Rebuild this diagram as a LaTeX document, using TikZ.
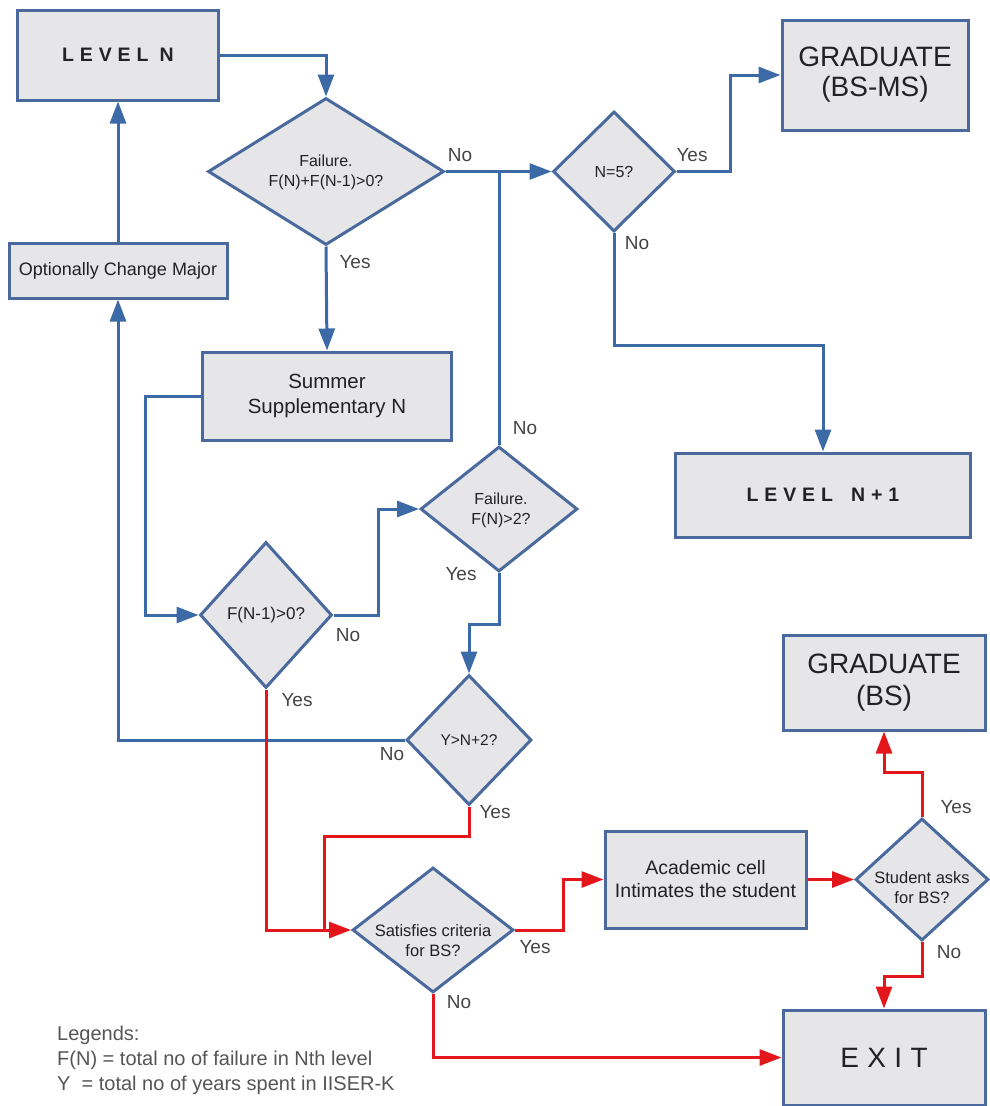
\documentclass[tikz,border=0pt]{standalone}
\usepackage{fontspec}
\setmainfont{Liberation Sans}
\usetikzlibrary{shapes.geometric,arrows.meta}
\definecolor{bordc}{HTML}{4A6A9E}
\definecolor{fillc}{HTML}{E6E6E9}
\definecolor{linec}{HTML}{3C6AA6}
\definecolor{redc}{HTML}{E3161C}
\definecolor{txtc}{HTML}{222222}
\definecolor{lblc}{HTML}{444444}
\definecolor{legc}{HTML}{555555}
\begin{document}
\begin{tikzpicture}[x=1pt,y=-1pt,
  box/.style={draw=bordc, line width=3pt, fill=fillc, inner sep=0pt, text=txtc, align=center},
  dia/.style={diamond, draw=bordc, line width=3pt, fill=fillc, inner sep=0pt, aspect=1},
  dtext/.style={text=txtc, align=center, inner sep=0pt},
  bline/.style={draw=linec, line width=3pt},
  barrow/.style={bline, -{Triangle[length=22pt,width=16pt]}},
  rline/.style={draw=redc, line width=3pt},
  rarrow/.style={rline, -{Triangle[length=22pt,width=16pt]}},
  lbl/.style={text=lblc, font=\fontsize{19}{19}\selectfont},
  spaced/.style={font=\fontsize{19.5}{22}\selectfont\bfseries\addfontfeature{LetterSpace=30}}
]
\useasboundingbox (0,0) rectangle (989,1106);

% ---------- nodes ----------
\node[box, spaced, minimum width=201pt, minimum height=90pt] (levelN) at (118,55) {LEVEL N};
\node[dia, minimum width=236pt, minimum height=147pt] (d1) at (326,171.5) {};
\node[dtext, font=\fontsize{16}{20}\selectfont] (d1t) at (326,172) {Failure.\\F(N)+F(N-1)>0?};
\node[box, font=\fontsize{18}{20}\selectfont, minimum width=218pt, minimum height=55pt] (opt) at (118,270.5) {Optionally Change Major};
\node[dia, minimum width=122pt, minimum height=120pt] (d5) at (614,171.5) {};
\node[dtext, font=\fontsize{16}{20}\selectfont] (d5t) at (614,171.5) {N=5?};
\node[box, font=\fontsize{28}{30}\selectfont, minimum width=186pt, minimum height=110pt] (gradMS) at (875,75) {GRADUATE\\(BS-MS)};
\node[box, font=\fontsize{20.5}{25}\selectfont, minimum width=249pt, minimum height=88pt] (summer) at (327,396) {Summer\\Supplementary N};
\node[box, spaced, minimum width=295pt, minimum height=84pt] (levelN1) at (823,495) {LEVEL\hspace{7pt} N+1};
\node[dia, minimum width=132pt, minimum height=146pt] (dF1) at (266,615) {};
\node[dtext, font=\fontsize{17}{20}\selectfont] (dF1t) at (266,615) {F(N-1)>0?};
\node[dia, minimum width=157pt, minimum height=125pt] (dF2) at (499,509) {};
\node[dtext, font=\fontsize{16}{20}\selectfont] (dF2t) at (501,510) {Failure.\\F(N)>2?};
\node[dia, minimum width=125pt, minimum height=130pt] (dY) at (469,740) {};
\node[dtext, font=\fontsize{15.5}{20}\selectfont] (dYt) at (469,740) {Y>N+2?};
\node[box, font=\fontsize{28}{32}\selectfont, minimum width=202pt, minimum height=95pt] (gradBS) at (884,682.5) {GRADUATE\\(BS)};
\node[dia, minimum width=161pt, minimum height=125pt] (sat) at (433,930) {};
\node[dtext, font=\fontsize{16.5}{20}\selectfont] (satt) at (433,941) {Satisfies criteria\\for BS?};
\node[box, font=\fontsize{19.5}{23}\selectfont, minimum width=201pt, minimum height=97pt] (acad) at (705.5,879.5) {Academic cell\\Intimates the student};
\node[dia, minimum width=133pt, minimum height=122pt] (stud) at (922,879.5) {};
\node[dtext, font=\fontsize{16.5}{20}\selectfont] (studt) at (922,888) {Student asks\\for BS?};
\node[box, font=\fontsize{28}{30}\selectfont\addfontfeature{LetterSpace=30}, minimum width=202pt, minimum height=95pt] (exit) at (884,1057.5) {EXIT};

\node[anchor=north west, align=left, inner sep=0pt, text=legc, font=\fontsize{20}{25}\selectfont] (legend) at (57,1026)
  {Legends:\\F(N) = total no of failure in Nth level\\Y~~= total no of years spent in IISER-K};

\coordinate (j1) at (324,930);

% ---------- blue connectors ----------
\draw[barrow] (levelN.east) -| (d1.north);
\draw[barrow] (d1.east) -- (d5.west);
\draw[bline] (dF2.north) -- (dF2.north |- d1.east);
\draw[barrow] (d5.east) -- ++(54,0) |- (gradMS.west);
\draw[barrow] (d5.south) -- ++(0,112) -| (levelN1.north);
\draw[barrow] (d1.south) -- (summer.north);
\draw[barrow] (summer.west) -- ++(-56,0) |- (dF1.west);
\draw[barrow] (dF1.east) -- ++(45,0) |- (dF2.west);
\draw[barrow] (dF2.south) -- ++(0,51.5) -| (dY.north);
\draw[barrow] (dY.west) -| (opt.south);
\draw[barrow] (opt.north) -- (levelN.south);

% ---------- red connectors ----------
\draw[rarrow] (dF1.south) |- (sat.west);
\draw[rline] (dY.south) -- ++(0,30) -| (j1);
\draw[rarrow] (sat.east) -- ++(48.5,0) |- (acad.west);
\draw[rarrow] (acad.east) -- (stud.west);
\draw[rarrow] (stud.north) -- ++(0,-44.5) -| (gradBS.south);
\draw[rarrow] (stud.south) -- ++(0,34.5) -| (exit.north);
\draw[rarrow] (sat.south) |- (exit.west);

% ---------- labels ----------
\node[lbl] (l1) at (460,155) {No};
\node[lbl] (l2) at (355,262) {Yes};
\node[lbl] (l3) at (692,155) {Yes};
\node[lbl] (l4) at (637,243) {No};
\node[lbl] (l5) at (525,428) {No};
\node[lbl] (l6) at (461,574) {Yes};
\node[lbl] (l7) at (348,635) {No};
\node[lbl] (l8) at (297,700) {Yes};
\node[lbl] (l9) at (392,754) {No};
\node[lbl] (l10) at (495,812) {Yes};
\node[lbl] (l11) at (535,947) {Yes};
\node[lbl] (l12) at (459,1002) {No};
\node[lbl] (l13) at (956,807) {Yes};
\node[lbl] (l14) at (949,952) {No};
\end{tikzpicture}
\end{document}
